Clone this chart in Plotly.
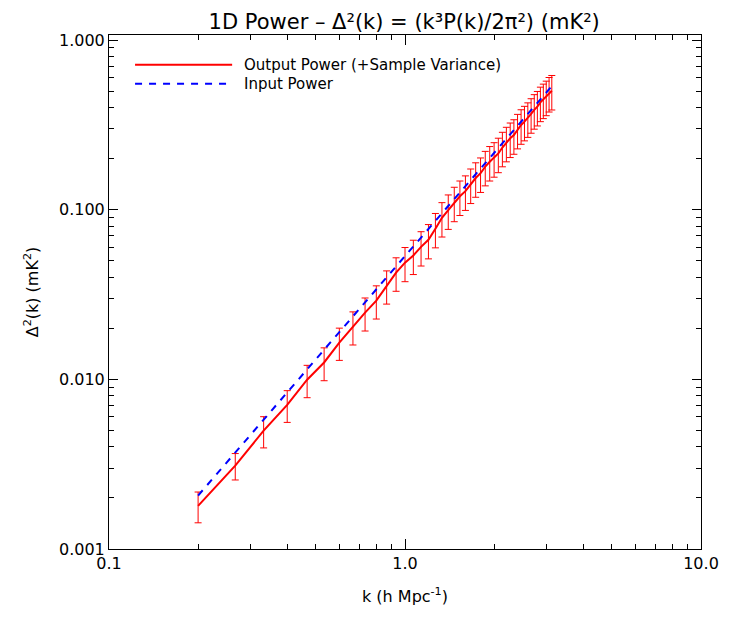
import plotly.graph_objects as go

# k bins (h/Mpc), 1/15 spacing from 0.2 to ~3.13
k = [0.200, 0.267, 0.333, 0.400, 0.467, 0.533, 0.600, 0.667, 0.733, 0.800,
     0.867, 0.933, 1.000, 1.067, 1.133, 1.200, 1.267, 1.333, 1.400, 1.467,
     1.533, 1.600, 1.667, 1.733, 1.800, 1.867, 1.933, 2.000, 2.067, 2.133,
     2.200, 2.267, 2.333, 2.400, 2.467, 2.533, 2.600, 2.667, 2.733, 2.800,
     2.867, 2.933, 3.000, 3.067, 3.133]

# input power (blue dashed)
input_power = [0.002065, 0.003693, 0.005794, 0.008372, 0.01143, 0.014967, 0.018987,
               0.023487, 0.02847, 0.033936, 0.039889, 0.046329, 0.053254, 0.060668,
               0.068573, 0.076952, 0.085848, 0.095204, 0.10509, 0.11541, 0.12626,
               0.13752, 0.14936, 0.16171, 0.17449, 0.18779, 0.2016, 0.21581, 0.23059,
               0.24584, 0.26168, 0.27791, 0.29464, 0.31187, 0.32961, 0.34783, 0.36655,
               0.38577, 0.40548, 0.42572, 0.44659, 0.46777, 0.48947, 0.5117, 0.5344]

# output power (red) and its sample variance errors
output_power = [0.001797, 0.003102, 0.004983, 0.007074, 0.009944, 0.012572, 0.016481,
                0.020457, 0.024712, 0.029117, 0.035661, 0.04253, 0.048727, 0.053752,
                0.060344, 0.066487, 0.077263, 0.089492, 0.09931, 0.11022, 0.11995,
                0.12858, 0.14115, 0.15362, 0.16402, 0.17934, 0.19152, 0.20178, 0.21445,
                0.23232, 0.2486, 0.26346, 0.27549, 0.29628, 0.31544, 0.33044, 0.34639,
                0.36648, 0.38723, 0.40443, 0.42873, 0.44672, 0.465, 0.48867, 0.50234]
output_err = [0.00037, 0.00055, 0.00104, 0.0015, 0.00215, 0.00276, 0.00355, 0.00452,
              0.00545, 0.00645, 0.0079, 0.0095, 0.0111, 0.0123, 0.0138, 0.0152, 0.0177,
              0.0205, 0.0228, 0.0253, 0.0276, 0.0296, 0.0325, 0.0353, 0.0377, 0.0412,
              0.044, 0.0464, 0.0493, 0.0534, 0.0572, 0.0606, 0.0634, 0.0681, 0.0726,
              0.076, 0.0797, 0.0843, 0.0891, 0.093, 0.0986, 0.1027, 0.107, 0.1124, 0.1155]

x_ticks = [0.1, 1.0, 10.0]
x_ticktext = ["0.1", "1.0", "10.0"]
y_ticks = [0.001, 0.01, 0.1, 1.0]
y_ticktext = ["0.001", "0.010", "0.100", "1.000"]

FONT = "DejaVu Sans"

fig = go.Figure()
fig.add_trace(go.Scatter(
    x=k, y=output_power, mode="lines",
    line=dict(color="#ff0000", width=2),
    error_y=dict(type="data", array=output_err, color="#ff0000", thickness=1, width=3.5),
    showlegend=False))
fig.add_trace(go.Scatter(
    x=k, y=input_power, mode="lines",
    line=dict(color="#0000ff", width=2, dash="7px,7px"),
    showlegend=False))

axis_common = dict(
    showline=True, linecolor="black", linewidth=1, mirror="ticks",
    ticks="inside", tickcolor="black", tickwidth=1,
    showgrid=False, zeroline=False,
    tickfont=dict(family=FONT, size=16, color="black"),
)
fig.update_xaxes(type="log", range=[-1, 1], tickvals=x_ticks, ticktext=x_ticktext,
                 ticklen=10,
                 minor=dict(dtick="D1", ticks="inside", ticklen=5, tickcolor="black", showgrid=False),
                 title=dict(text="k (h Mpc<sup>-1</sup>)", font=dict(family=FONT, size=16, color="black"),
                            standoff=18),
                 **axis_common)
fig.update_yaxes(type="log", range=[-3, 0.0295], tickvals=y_ticks, ticktext=y_ticktext,
                 ticklen=9,
                 minor=dict(dtick="D1", ticks="inside", ticklen=5, tickcolor="black", showgrid=False),
                 title=dict(text="Δ<sup>2</sup>(k) (mK<sup>2</sup>)", font=dict(family=FONT, size=16, color="black"),
                            standoff=16),
                 **axis_common)

# legend drawn by hand, IDL style (long line samples)
fig.add_shape(type="line", xref="paper", yref="paper", x0=0.044, x1=0.208, y0=0.942, y1=0.942,
              line=dict(color="#ff0000", width=2))
fig.add_shape(type="line", xref="paper", yref="paper", x0=0.044, x1=0.200, y0=0.905, y1=0.905,
              line=dict(color="#0000ff", width=2, dash="7px,7px"))
fig.add_annotation(xref="paper", yref="paper", x=0.224, y=0.942, xanchor="left", yanchor="middle",
                   text="Output Power (+Sample Variance)", showarrow=False,
                   font=dict(family=FONT, size=15, color="black"))
fig.add_annotation(xref="paper", yref="paper", x=0.224, y=0.905, xanchor="left", yanchor="middle",
                   text="Input Power", showarrow=False,
                   font=dict(family=FONT, size=15, color="black"))

# the page body adds an 8px offset, so margins are shifted back by 8px
fig.update_layout(
    width=733, height=622,
    paper_bgcolor="white", plot_bgcolor="white",
    margin=dict(l=101, r=40, t=27, b=81),
    title=dict(text="1D Power – Δ²(k) = (k³P(k)/2π²) (mK²)",
               x=0.5405, xanchor="center", y=0.978, yanchor="middle",
               font=dict(family=FONT, size=21, color="black")),
    font=dict(family=FONT, color="black"),
)

fig.write_html("out.html")
